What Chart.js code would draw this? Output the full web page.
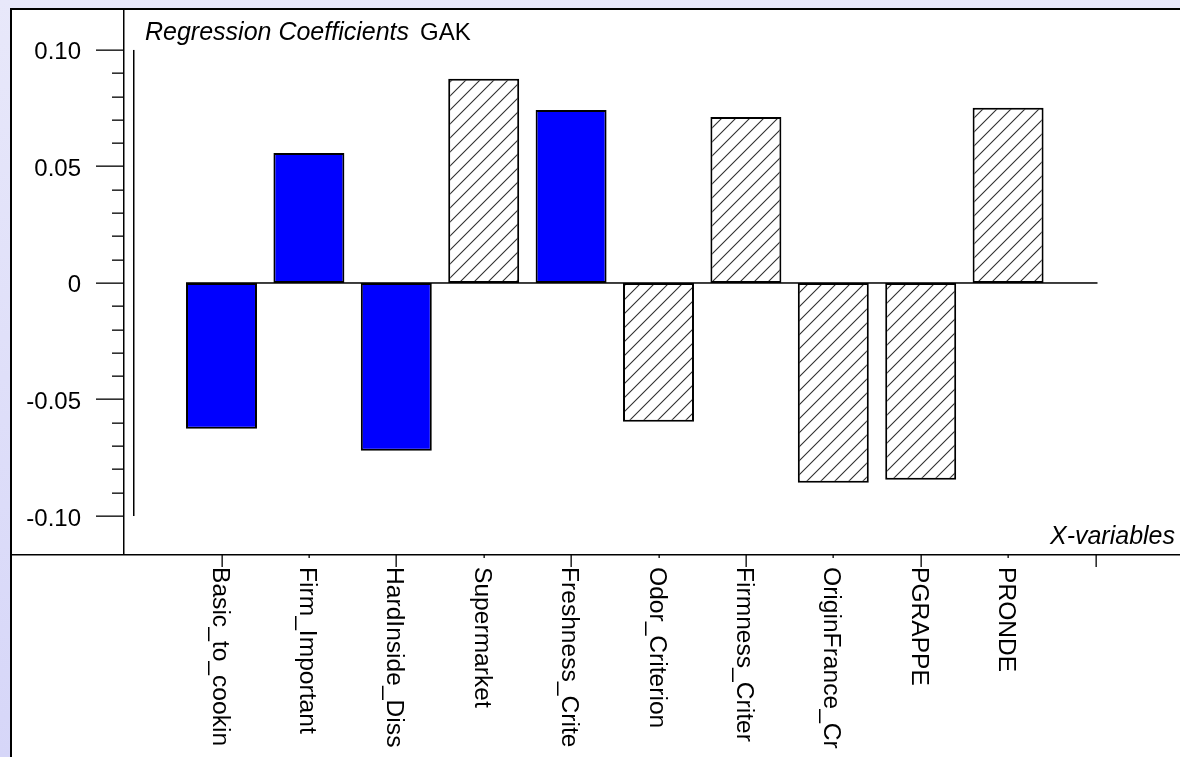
<!DOCTYPE html>
<html>
<head>
<meta charset="utf-8">
<title>Regression Coefficients GAK</title>
<script src="https://cdn.jsdelivr.net/npm/chart.js@4/dist/chart.umd.min.js"></script>
<style>
  html, body { margin: 0; padding: 0; background: #e4e4f8; }
  #c { display: block; }
</style>
</head>
<body>
<canvas id="c" width="1180" height="757"></canvas>
<script>
// X-variables and their regression coefficients for the response GAK
const categories = [
  'Basic_to_cookin', 'Firm_Important', 'HardInside_Diss', 'Supermarket',
  'Freshness_Crite', 'Odor_Criterion', 'Firmness_Criter', 'OriginFrance_Cr',
  'PGRAPPE', 'PRONDE'
];
const coefficients = [
  -0.0625, 0.0558, -0.0720, 0.0876, 0.0742,
  -0.0595, 0.0712, -0.0857, -0.0844, 0.0752
];
// true = solid bar, false = hatched bar
const significant = [true, true, true, false, true, false, false, false, false, false];

// y axis: labelled ticks, minor tick step and visible range
const yMajorTicks = [0.10, 0.05, 0, -0.05, -0.10];
const yTickLabels = ['0.10', '0.05', '0', '-0.05', '-0.10'];
const yMinorStep = 0.01;
const yRange = [-0.1163, 0.1180];

const titleText = 'Regression Coefficients';
const responseName = 'GAK';
const xAxisTitle = 'X-variables';

const W = 1180, H = 757;
const FONT = '"Liberation Sans", Arial, sans-serif';

// diagonal hatch fill
function makeHatch() {
  const s = 14;
  const t = document.createElement('canvas');
  t.width = s; t.height = s;
  const g = t.getContext('2d');
  g.fillStyle = '#fff';
  g.fillRect(0, 0, s, s);
  g.strokeStyle = '#303030';
  g.lineWidth = 1.1;
  g.beginPath();
  g.moveTo(-1, s + 1); g.lineTo(s + 1, -1);
  g.moveTo(-2, 2); g.lineTo(2, -2);
  g.moveTo(s - 2, s + 2); g.lineTo(s + 2, s - 2);
  g.stroke();
  return g.createPattern(t, 'repeat');
}
const ctx0 = document.getElementById('c').getContext('2d');
const hatch = makeHatch();

// one empty slot after the last variable carries the closing tick
const xLabels = categories.concat(['']);
const xValues = coefficients.concat([null]);

const framePlugin = {
  id: 'frame',
  beforeDraw(chart) {
    const ctx = chart.ctx;
    ctx.save();
    const bg = ctx.createLinearGradient(0, 0, 0, H);
    bg.addColorStop(0, '#e8e8fa');
    bg.addColorStop(1, '#d6d6f8');
    ctx.fillStyle = bg;
    ctx.fillRect(0, 0, W, H);
    ctx.fillStyle = '#ffffff';
    ctx.fillRect(11, 9, W - 11, H - 9);
    ctx.fillStyle = '#000';
    ctx.fillRect(10, 8, W - 10, 2);
    ctx.fillRect(10, 8, 2, H - 8);
    ctx.restore();
  },
  afterDatasetsDraw(chart) {
    const ctx = chart.ctx;
    const xs = chart.scales.x, ys = chart.scales.y;
    const axisY = chart.chartArea.bottom;
    ctx.save();
    ctx.fillStyle = '#000';

    // frame lines: y-axis column and x-axis row
    ctx.fillRect(123, 8, 1.5, axisY - 8 + 1);
    ctx.fillRect(10, axisY, W - 10, 1.5);

    // y tick marks
    const nMinor = Math.round((yMajorTicks[0] - yMajorTicks[yMajorTicks.length - 1]) / yMinorStep);
    for (let k = 0; k <= nMinor; k++) {
      const v = yMajorTicks[yMajorTicks.length - 1] + k * yMinorStep;
      const py = Math.round(ys.getPixelForValue(v));
      const major = yMajorTicks.some(m => Math.abs(m - v) < 1e-9);
      const len = major ? 27 : 11;
      ctx.fillRect(123 - len, py - 0.5, len, 1.3);
    }
    // y tick labels
    ctx.font = '24px ' + FONT;
    ctx.textAlign = 'right';
    ctx.textBaseline = 'alphabetic';
    yMajorTicks.forEach((v, i) => {
      ctx.fillText(yTickLabels[i], 81, ys.getPixelForValue(v) + 9.5);
    });

    // axis line spanning the labelled range
    const yTop = ys.getPixelForValue(yMajorTicks[0]);
    const yBot = ys.getPixelForValue(yMajorTicks[yMajorTicks.length - 1]);
    ctx.fillRect(133, yTop, 1.5, yBot - yTop);

    // zero line from the first bar edge to the closing tick
    const meta = chart.getDatasetMeta(0);
    const firstBar = meta.data[0];
    const zx0 = firstBar.x - firstBar.width / 2;
    const zx1 = xs.getPixelForValue(xLabels.length - 1) + 2;
    const zy = ys.getPixelForValue(0);
    ctx.fillRect(zx0, zy - 0.75, zx1 - zx0, 1.5);

    // category ticks below the x-axis row
    xLabels.forEach((c, i) => {
      const px = Math.round(xs.getPixelForValue(i));
      const len = i % 2 === 0 ? 13 : 4;
      ctx.fillRect(px - 0.5, axisY, 1.3, len);
    });

    // category labels, reading downward
    ctx.font = '24.6px ' + FONT;
    ctx.textAlign = 'left';
    categories.forEach((c, i) => {
      const px = xs.getPixelForValue(i);
      ctx.save();
      ctx.translate(px - 9, 567);
      ctx.rotate(Math.PI / 2);
      ctx.fillText(c, 0, 0);
      ctx.restore();
    });

    // titles
    ctx.font = 'italic 25px ' + FONT;
    ctx.textAlign = 'left';
    ctx.fillText(titleText, 145, 40);
    ctx.font = '24px ' + FONT;
    ctx.fillText(responseName, 420, 40);
    ctx.font = 'italic 25px ' + FONT;
    ctx.textAlign = 'right';
    ctx.fillText(xAxisTitle, 1175, 544);
    ctx.restore();
  }
};

new Chart(ctx0, {
  type: 'bar',
  data: {
    labels: xLabels,
    datasets: [{
      data: xValues,
      backgroundColor: c => (significant[c.dataIndex] ? '#0000ff' : hatch),
      borderColor: '#000',
      borderWidth: 2,
      borderSkipped: false,
      categoryPercentage: 1,
      barPercentage: 0.812
    }]
  },
  options: {
    responsive: false,
    devicePixelRatio: 1,
    animation: false,
    layout: { padding: { left: 177.8, right: 40.8, top: 8, bottom: 203 } },
    plugins: { legend: { display: false }, tooltip: { enabled: false } },
    scales: {
      x: { type: 'category', display: false, offset: true, grid: { display: false } },
      y: { type: 'linear', display: false, min: yRange[0], max: yRange[1] }
    }
  },
  plugins: [framePlugin]
});
</script>
</body>
</html>
